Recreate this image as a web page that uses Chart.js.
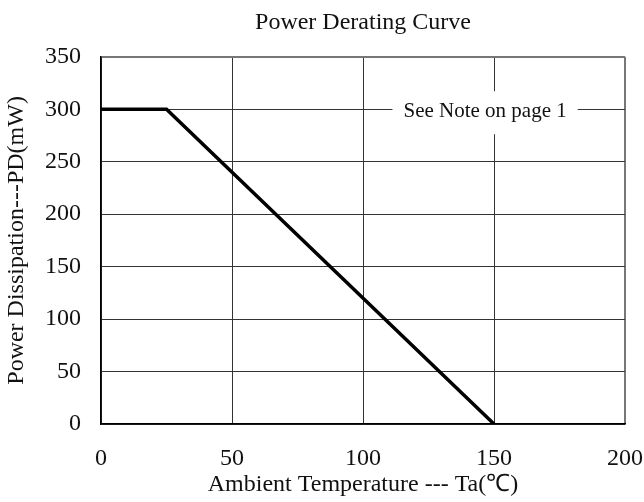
<!DOCTYPE html>
<html lang="en">
<head>
  <meta charset="UTF-8">
  <title>Power Derating Curve</title>
  <script src="https://cdn.jsdelivr.net/npm/chart.js"></script>
  <style>
    body { margin: 0; background: #fff; }
    #wrap { width: 644px; height: 502px; }
  </style>
</head>
<body>
<div id="wrap"><canvas id="derating" width="644" height="502"></canvas></div>
<script>
  // values
  const ambientTemp = [0, 25, 150];
  const powerMw = [300, 300, 0];
  const xTicks = [0, 50, 100, 150, 200];
  const yTicks = [0, 50, 100, 150, 200, 250, 300, 350];
  const noteText = 'See Note on page 1';
  const notePos = { x: 146.6, y: 300 };

  const serif = '"Liberation Serif", "Times New Roman", serif';

  // outer edge lines (top/right) are lighter in the original
  const gridColor = c => (c.tick && c.tick.value === c.scale.max ? '#777' : '#333');
  const gridWidth = c => (c.tick && c.tick.value === c.scale.max ? 2 : 1);

  // white label box sitting on the 300 gridline
  const notePlugin = {
    id: 'note',
    afterDatasetsDraw(chart) {
      const { ctx, scales } = chart;
      const cx = scales.x.getPixelForValue(notePos.x);
      const cy = scales.y.getPixelForValue(notePos.y);
      ctx.save();
      ctx.font = '21px ' + serif;
      const w = ctx.measureText(noteText).width + 22;
      ctx.fillStyle = '#fff';
      ctx.fillRect(cx - w / 2, cy - 18, w, 43);
      ctx.fillStyle = '#111';
      ctx.textAlign = 'center';
      ctx.textBaseline = 'middle';
      ctx.fillText(noteText, cx, cy + 2);
      ctx.restore();
    }
  };

  new Chart(document.getElementById('derating'), {
    type: 'line',
    data: {
      datasets: [{
        data: ambientTemp.map((t, i) => ({ x: t, y: powerMw[i] })),
        borderColor: '#000',
        borderWidth: 3.5,
        pointRadius: 0,
        fill: false,
        tension: 0
      }]
    },
    options: {
      responsive: false,
      animation: false,
      layout: { padding: { left: 0, right: 19, top: 0, bottom: 0 } },
      plugins: {
        legend: { display: false },
        tooltip: { enabled: false },
        title: {
          display: true,
          fullSize: false,
          text: 'Power Derating Curve',
          color: '#111',
          font: { family: serif, size: 24, weight: 'normal' },
          padding: { top: 8, bottom: 20 }
        }
      },
      scales: {
        x: {
          type: 'linear',
          min: xTicks[0],
          max: xTicks[xTicks.length - 1],
          afterBuildTicks: s => { s.ticks = xTicks.map(v => ({ value: v })); },
          afterFit: s => { s.height = 78; s.paddingLeft = 0; s.paddingRight = 0; },
          grid: { color: gridColor, lineWidth: gridWidth, drawTicks: false },
          border: { color: '#000', width: 1.5 },
          ticks: { color: '#111', padding: 20, font: { family: serif, size: 24 } },
          title: {
            display: true,
            text: 'Ambient Temperature --- Ta(℃)',
            color: '#111',
            font: { family: serif, size: 24 },
            padding: { top: 0, bottom: 3 }
          }
        },
        y: {
          min: yTicks[0],
          max: yTicks[yTicks.length - 1],
          afterBuildTicks: s => { s.ticks = yTicks.map(v => ({ value: v })); },
          afterFit: s => { s.width = 101; s.paddingTop = 0; s.paddingBottom = 0; },
          grid: { color: gridColor, lineWidth: gridWidth, drawTicks: false },
          border: { color: '#000', width: 1.5 },
          ticks: { color: '#111', padding: 20, font: { family: serif, size: 24 } },
          title: {
            display: true,
            text: 'Power Dissipation---PD(mW)',
            color: '#111',
            font: { family: serif, size: 24 },
            padding: { top: 2, bottom: 0 }
          }
        }
      }
    },
    plugins: [notePlugin]
  });
</script>
</body>
</html>
